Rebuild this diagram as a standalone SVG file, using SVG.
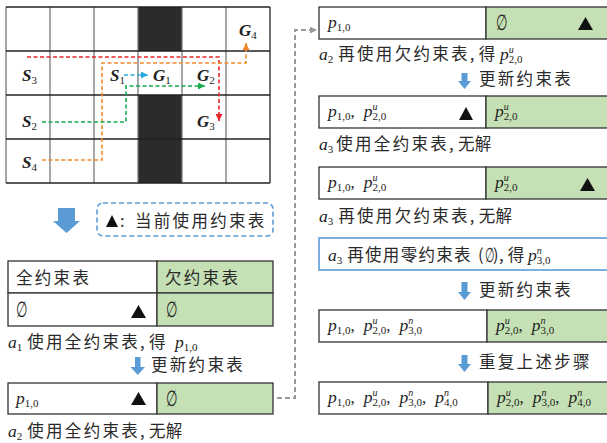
<svg xmlns="http://www.w3.org/2000/svg" width="607" height="443" viewBox="0 0 607 443">
<style>
.cj{font-family:"Noto Sans CJK SC","Noto Sans",sans-serif;font-size:16.5px;letter-spacing:2.3px;fill:#2a2a2a}
.ls{letter-spacing:0.3px}
.nr{letter-spacing:1.3px}
.m{font-family:"Liberation Serif",serif;font-style:italic;font-size:17.5px;letter-spacing:0;fill:#222}
.up{font-family:"Liberation Serif",serif;font-style:normal;font-size:17px;letter-spacing:0}
.sb{font-size:11px;font-style:normal}
.sp{font-size:10px;font-style:italic}
.es{font-family:"DejaVu Serif",serif;font-size:18px;font-style:normal;letter-spacing:0;fill:#222}
.g{font-family:"Liberation Serif",serif;font-style:italic;font-weight:bold;font-size:17px;fill:#222}
.gs{font-size:11px;font-weight:normal;font-style:normal}
.cell{fill:#fff;stroke:#333;stroke-width:1.3}
.gr{fill:#c5e0b4;stroke:#333;stroke-width:1.3}
.tri{fill:#111}
.hl{stroke:#222;stroke-width:1.3}
.vl{stroke:#777;stroke-width:1.3}
.dash{fill:none;stroke-width:1.6;stroke-dasharray:4 2.5}
.fat{fill:#5b9bd5}
</style>
<defs>
<marker id="mr" markerUnits="userSpaceOnUse" markerWidth="8" markerHeight="7" refX="7" refY="3.5" orient="auto"><path d="M0,0 L7,3.5 L0,7 z" fill="#e8262a"/></marker>
<marker id="mo" markerUnits="userSpaceOnUse" markerWidth="8" markerHeight="7" refX="7" refY="3.5" orient="auto"><path d="M0,0 L7,3.5 L0,7 z" fill="#f08a2c"/></marker>
<marker id="mg" markerUnits="userSpaceOnUse" markerWidth="8" markerHeight="7" refX="7" refY="3.5" orient="auto"><path d="M0,0 L7,3.5 L0,7 z" fill="#1aab4b"/></marker>
<marker id="mb" markerUnits="userSpaceOnUse" markerWidth="8" markerHeight="7" refX="7" refY="3.5" orient="auto"><path d="M0,0 L7,3.5 L0,7 z" fill="#29a9e0"/></marker>
<marker id="mk" markerUnits="userSpaceOnUse" markerWidth="8" markerHeight="7" refX="7" refY="3.5" orient="auto"><path d="M0,0 L7,3.5 L0,7 z" fill="#999"/></marker>
</defs>
<rect width="607" height="443" fill="#fff"/>

<g id="grid">
<rect x="6" y="7" width="264" height="176" fill="#fff"/>
<rect x="138" y="7" width="44" height="44" fill="#2b2b2b"/>
<rect x="138" y="95" width="44" height="88" fill="#2b2b2b"/>
<line class="vl" x1="6" y1="7" x2="6" y2="183"/>
<line class="vl" x1="50" y1="7" x2="50" y2="183"/>
<line class="vl" x1="94" y1="7" x2="94" y2="183"/>
<line class="vl" x1="138" y1="7" x2="138" y2="183"/>
<line class="vl" x1="182" y1="7" x2="182" y2="183"/>
<line class="vl" x1="226" y1="7" x2="226" y2="183"/>
<line class="hl" x1="270" y1="7" x2="270" y2="183"/>
<line class="hl" x1="6" y1="7" x2="270" y2="7"/>
<line class="hl" x1="6" y1="51" x2="270" y2="51"/>
<line class="hl" x1="6" y1="95" x2="270" y2="95"/>
<line class="hl" x1="6" y1="139" x2="270" y2="139"/>
<line class="hl" x1="6" y1="183" x2="270" y2="183"/>
<text class="g" x="239" y="36">G<tspan class="gs" dy="3">4</tspan></text>
<text class="g" x="22" y="81">S<tspan class="gs" dy="3">3</tspan></text>
<text class="g" x="110" y="81">S<tspan class="gs" dy="3">1</tspan></text>
<text class="g" x="153" y="81">G<tspan class="gs" dy="3">1</tspan></text>
<text class="g" x="197" y="81">G<tspan class="gs" dy="3">2</tspan></text>
<text class="g" x="22" y="127">S<tspan class="gs" dy="3">2</tspan></text>
<text class="g" x="197" y="127">G<tspan class="gs" dy="3">3</tspan></text>
<text class="g" x="22" y="168">S<tspan class="gs" dy="3">4</tspan></text>
</g>

<g id="connectors">
<path class="dash" stroke="#e8262a" d="M27,57 H219 V121" marker-end="url(#mr)"/>
<path class="dash" stroke="#f08a2c" d="M42,160 H102 V63 H246 V43" marker-end="url(#mo)"/>
<path class="dash" stroke="#1aab4b" d="M42,122 H126 V86 H205" marker-end="url(#mg)"/>
<path class="dash" stroke="#29a9e0" d="M124,75 H148" marker-end="url(#mb)"/>
<path fill="none" stroke="#999" stroke-width="2" stroke-dasharray="5 3" d="M277,398 H295 V30 H317" marker-end="url(#mk)"/>
<polygon class="fat" points="58,208 75,208 75,221 80,221 66.5,233 53,221 58,221"/>
<polygon class="fat" points="135,357 140.5,357 140.5,367 145,367 137.75,375 130.5,367 135,367"/>
<polygon class="fat" points="461.5,73 467.5,73 467.5,81 471,81 464.5,89 458,81 461.5,81"/>
<polygon class="fat" points="461.5,282 467.5,282 467.5,292 471,292 464.5,300 458,292 461.5,292"/>
<polygon class="fat" points="461.5,355 467.5,355 467.5,364 471,364 464.5,372 458,364 461.5,364"/>
</g>

<g id="legend">
<rect x="97" y="203" width="176" height="33" rx="6" fill="none" stroke="#5b9bd5" stroke-width="1.6" stroke-dasharray="5 3"/>
<polygon class="tri" points="106,227 112,215 118,227"/>
<text class="cj" x="120" y="227"><tspan class="ls">: </tspan><tspan x="135">当前使用约束表</tspan></text>
</g>

<g id="table-1">
<rect class="cell" x="8" y="261" width="149" height="32"/>
<rect class="gr" x="157" y="261" width="116" height="32"/>
<rect class="cell" x="8" y="293" width="149" height="33"/>
<rect class="gr" x="157" y="293" width="116" height="33"/>
<text class="cj" x="16" y="284">全约束表</text>
<text class="cj" x="165" y="284">欠约束表</text>
<text class="es" transform="translate(16,317) scale(0.72,1.2)">∅</text>
<polygon class="tri" points="131,318 138.5,305 146,318"/>
<text class="es" transform="translate(166,317) scale(0.72,1.2)">∅</text>
</g>

<g id="caption-1">
<text class="cj" x="8" y="348"><tspan class="m">a</tspan><tspan class="m sb" dy="3">1</tspan><tspan dx="5" dy="-3">使用全约束表</tspan><tspan class="ls">, 得</tspan><tspan class="m" x="175">p</tspan><tspan class="m sb" dy="3">1,0</tspan></text>
<text class="cj" x="151" y="371">更新约束表</text>
</g>

<g id="table-2">
<rect class="cell" x="8" y="383" width="149" height="31"/>
<rect class="gr" x="157" y="383" width="116" height="31"/>
<text class="m" x="16" y="404">p<tspan class="sb" dy="3">1,0</tspan></text>
<polygon class="tri" points="131,405 138.5,392 146,405"/>
<text class="es" transform="translate(166,406) scale(0.72,1.2)">∅</text>
<text class="cj" x="8" y="437"><tspan class="m">a</tspan><tspan class="m sb" dy="3">2</tspan><tspan dx="5" dy="-3">使用全约束表</tspan><tspan class="ls">, 无解</tspan></text>
</g>

<g id="table-r1">
<rect class="cell" x="319" y="7" width="167" height="32"/>
<rect class="gr" x="486" y="7" width="140" height="32"/>
<text class="m" x="328" y="28">p<tspan class="sb" dy="3">1,0</tspan></text>
<text class="es" transform="translate(496,30) scale(0.72,1.2)">∅</text>
<polygon class="tri" points="578,30 585.5,17 593,30"/>
<text class="cj" x="319" y="60"><tspan class="m">a</tspan><tspan class="m sb" dy="3">2</tspan><tspan dx="5" dy="-3">再使用欠约束表</tspan><tspan class="ls">, 得</tspan><tspan class="m" x="500">p</tspan><tspan class="m sp" dy="-7">u</tspan><tspan class="m sb" dx="-5" dy="10">2,0</tspan></text>
<text class="cj" x="479" y="85">更新约束表</text>
</g>

<g id="table-r2">
<rect class="cell" x="319" y="96" width="167" height="32"/>
<rect class="gr" x="486" y="96" width="140" height="32"/>
<text class="m" x="328" y="117">p<tspan class="sb" dy="3">1,0</tspan><tspan class="up" dy="-3">,</tspan><tspan dx="9">p</tspan><tspan class="sp" dy="-7">u</tspan><tspan class="sb" dx="-5" dy="10">2,0</tspan></text>
<polygon class="tri" points="459,120 466,107 473,120"/>
<text class="m" x="495" y="117">p<tspan class="sp" dy="-7">u</tspan><tspan class="sb" dx="-5" dy="10">2,0</tspan></text>
<text class="cj" x="319" y="150"><tspan class="m">a</tspan><tspan class="m sb" dy="3">3</tspan><tspan dx="3" dy="-3">使用全约束表</tspan><tspan class="ls">, 无解</tspan></text>
</g>

<g id="table-r3">
<rect class="cell" x="319" y="167" width="167" height="32"/>
<rect class="gr" x="486" y="167" width="140" height="32"/>
<text class="m" x="328" y="188">p<tspan class="sb" dy="3">1,0</tspan><tspan class="up" dy="-3">,</tspan><tspan dx="9">p</tspan><tspan class="sp" dy="-7">u</tspan><tspan class="sb" dx="-5" dy="10">2,0</tspan></text>
<text class="m" x="495" y="188">p<tspan class="sp" dy="-7">u</tspan><tspan class="sb" dx="-5" dy="10">2,0</tspan></text>
<polygon class="tri" points="580,191 587.5,178 595,191"/>
<text class="cj" x="319" y="222"><tspan class="m">a</tspan><tspan class="m sb" dy="3">3</tspan><tspan dx="5" dy="-3">再使用欠约束表</tspan><tspan class="ls">, 无解</tspan></text>
</g>

<g id="box-r4">
<rect x="319" y="238" width="310" height="32" fill="#fff" stroke="#5b9bd5" stroke-width="1.6"/>
<text class="cj" x="328" y="261"><tspan class="m">a</tspan><tspan class="m sb" dy="3">3</tspan><tspan class="nr" dx="5" dy="-3">再使用零约束表</tspan><tspan x="478">(</tspan></text>
<text class="es" transform="translate(485,262) scale(0.6,1.1)">∅</text>
<text class="cj" x="493" y="261"><tspan class="ls">), 得</tspan><tspan class="m" x="528">p</tspan><tspan class="m sp" dy="-7">n</tspan><tspan class="m sb" dx="-5" dy="10">3,0</tspan></text>
<text class="cj" x="479" y="296">更新约束表</text>
</g>

<g id="table-r5">
<rect class="cell" x="319" y="310" width="168" height="32"/>
<rect class="gr" x="487" y="310" width="140" height="32"/>
<text class="m" x="328" y="331">p<tspan class="sb" dy="3">1,0</tspan><tspan class="up" dy="-3">,</tspan><tspan dx="9">p</tspan><tspan class="sp" dy="-7">u</tspan><tspan class="sb" dx="-5" dy="10">2,0</tspan><tspan class="up" dy="-3">,</tspan><tspan dx="9">p</tspan><tspan class="sp" dy="-7">n</tspan><tspan class="sb" dx="-5" dy="10">3,0</tspan></text>
<text class="m" x="496" y="331">p<tspan class="sp" dy="-7">u</tspan><tspan class="sb" dx="-5" dy="10">2,0</tspan><tspan class="up" dy="-3">,</tspan><tspan dx="9">p</tspan><tspan class="sp" dy="-7">n</tspan><tspan class="sb" dx="-5" dy="10">3,0</tspan></text>
<text class="cj" x="479" y="368">重复上述步骤</text>
</g>

<g id="table-r6">
<rect class="cell" x="319" y="382" width="169" height="32"/>
<rect class="gr" x="488" y="382" width="140" height="32"/>
<text class="m" x="328" y="403">p<tspan class="sb" dy="3">1,0</tspan><tspan class="up" dy="-3">,</tspan><tspan dx="9">p</tspan><tspan class="sp" dy="-7">u</tspan><tspan class="sb" dx="-5" dy="10">2,0</tspan><tspan class="up" dy="-3">,</tspan><tspan dx="9">p</tspan><tspan class="sp" dy="-7">n</tspan><tspan class="sb" dx="-5" dy="10">3,0</tspan><tspan class="up" dy="-3">,</tspan><tspan dx="9">p</tspan><tspan class="sp" dy="-7">n</tspan><tspan class="sb" dx="-5" dy="10">4,0</tspan></text>
<text class="m" x="497" y="403">p<tspan class="sp" dy="-7">u</tspan><tspan class="sb" dx="-5" dy="10">2,0</tspan><tspan class="up" dy="-3">,</tspan><tspan dx="9">p</tspan><tspan class="sp" dy="-7">n</tspan><tspan class="sb" dx="-5" dy="10">3,0</tspan><tspan class="up" dy="-3">,</tspan><tspan dx="9">p</tspan><tspan class="sp" dy="-7">n</tspan><tspan class="sb" dx="-5" dy="10">4,0</tspan></text>
</g>
</svg>
